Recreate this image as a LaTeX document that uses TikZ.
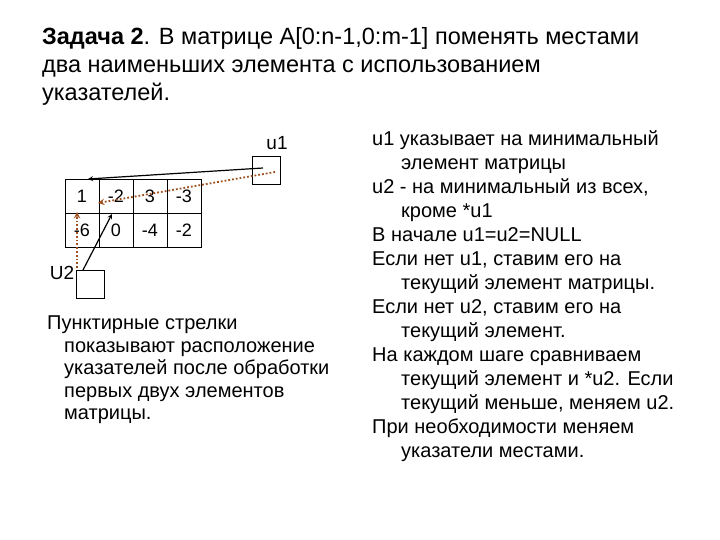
\documentclass[tikz,border=0pt]{standalone}
\usepackage{fontspec}
\setmainfont{Liberation Sans}
\begin{document}
\begin{tikzpicture}[x=1pt,y=-1pt,
  cell/.style={draw,line width=0.8pt,minimum width=34pt,minimum height=34pt,inner sep=0pt,font=\fontsize{18}{18}\selectfont},
  ptr/.style={draw,line width=0.8pt,minimum width=28pt,minimum height=28pt,inner sep=0pt},
  txt/.style={anchor=north west,inner sep=0pt,align=left},
  solidarr/.style={-stealth,line width=1.2pt},
  dotarr/.style={-stealth,line width=1.8pt,dotted,draw={rgb,255:red,160;green,80;blue,30}}]
\useasboundingbox (0,0) rectangle (720,540);
\node[anchor=north west,inner sep=0pt,align=left,font=\fontsize{23.5}{28}\selectfont] (title) at (42,27)
 {\textbf{Задача 2}. В матрице A[0:n-1,0:m-1] поменять местами\\два наименьших элемента с использованием\\указателей.};
\foreach \v [count=\i] in {1,-2,3,-3} \node[cell] (a1\i) at (65+34*\i-17,196) {\v};
\foreach \v [count=\i] in {-6,0,-4,-2} \node[cell] (a2\i) at (65+34*\i-17,230) {\v};
\node[ptr] (u1) at (266,170) {};
\node[font=\fontsize{19}{19}\selectfont] (u1l) at (277,143) {u1};
\node[ptr] (u2) at (90,284) {};
\node[font=\fontsize{19}{19}\selectfont] (u2l) at (62,273) {U2};
\coordinate (s1) at (263,168); \coordinate (e1) at (88,179);
\draw[solidarr] (s1) -- (e1);
\coordinate (s2) at (275,172); \coordinate (e2) at (98,203);
\draw[dotarr] (s2) -- (e2);
\coordinate (s3) at (83,270); \coordinate (e3) at (112,214);
\draw[solidarr] (s3) -- (e3);
\coordinate (s4) at (77,268); \coordinate (e4) at (77,212);
\draw[dotarr] (s4) -- (e4);
\node[txt,font=\fontsize{20}{22.5}\selectfont] (left) at (47,316) {Пунктирные стрелки\\\hspace*{17pt}показывают расположение\\\hspace*{17pt}указателей после обработки\\\hspace*{17pt}первых двух элементов\\\hspace*{17pt}матрицы.};
\node[txt,font=\fontsize{20}{24}\selectfont] (right) at (372,130) {u1 указывает на минимальный\\\hspace*{29pt}элемент матрицы\\u2 - на минимальный из всех,\\\hspace*{29pt}кроме *u1\\В начале u1=u2=NULL\\Если нет u1, ставим его на\\\hspace*{29pt}текущий элемент матрицы.\\Если нет u2, ставим его на\\\hspace*{29pt}текущий элемент.\\На каждом шаге сравниваем\\\hspace*{29pt}текущий элемент и *u2. Если\\\hspace*{29pt}текущий меньше, меняем u2.\\При необходимости меняем\\\hspace*{29pt}указатели местами.};
\end{tikzpicture}
\end{document}
